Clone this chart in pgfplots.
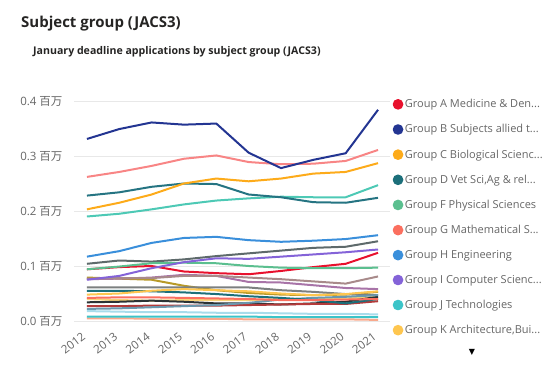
\documentclass[border=0pt]{standalone}
\usepackage{pgfplots}
\pgfplotsset{compat=1.18}
\usepackage{pgfplotstable}
\usepackage{fontspec}
\setmainfont{Open Sans}
\newfontfamily\cjk{Noto Sans CJK SC}
\newfontfamily\dejavu{DejaVu Sans}
\definecolor{tickgrey}{HTML}{666666}
\definecolor{titlecol}{HTML}{252423}
\definecolor{cA}{HTML}{E8112D}
\definecolor{cB}{HTML}{233592}
\definecolor{cC}{HTML}{FDAB1A}
\definecolor{cD}{HTML}{1C6F7A}
\definecolor{cF}{HTML}{5BBF8F}
\definecolor{cG}{HTML}{FB6F5F}
\definecolor{cH}{HTML}{3A8FDB}
\definecolor{cI}{HTML}{8463D8}
\definecolor{cJ}{HTML}{3CC4C8}
\definecolor{cK}{HTML}{FEC64F}
\definecolor{cL}{HTML}{F88585}
\definecolor{cM}{HTML}{4DC9B5}
\definecolor{cN}{HTML}{257482}
\definecolor{cP}{HTML}{5E6A6B}
\definecolor{cQ}{HTML}{B89A28}
\definecolor{cR}{HTML}{A874A8}
\definecolor{cT}{HTML}{A88A8A}
\definecolor{cV}{HTML}{7C8080}
\definecolor{cW}{HTML}{F8D37A}
\definecolor{cX}{HTML}{2B3335}
\definecolor{cY}{HTML}{B33A3A}
\definecolor{cZ}{HTML}{6A98AE}
\definecolor{cZa}{HTML}{A8DCEB}
\definecolor{cZb}{HTML}{F9A98C}

\pgfplotstableread{
year A B C D F G H I J K L M N P Q R T V W X Y Z Za Zb
2012 0.094 0.331 0.203 0.055 0.094 0.042 0.117 0.075 0.008 0.048 0.262 0.190 0.228 0.104 0.079 0.076 0.077 0.061 0.040 0.034 0.027 0.022 0.018 0.005
2013 0.098 0.349 0.215 0.055 0.099 0.043 0.127 0.082 0.008 0.050 0.271 0.195 0.234 0.110 0.077 0.077 0.078 0.061 0.038 0.035 0.027 0.023 0.017 0.005
2014 0.100 0.361 0.230 0.054 0.105 0.043 0.142 0.096 0.008 0.055 0.282 0.203 0.244 0.108 0.075 0.079 0.078 0.061 0.037 0.037 0.028 0.025 0.016 0.004
2015 0.090 0.357 0.250 0.052 0.106 0.042 0.151 0.107 0.008 0.058 0.295 0.212 0.250 0.112 0.064 0.084 0.082 0.061 0.038 0.035 0.028 0.027 0.016 0.004
2016 0.087 0.359 0.259 0.049 0.105 0.041 0.153 0.114 0.008 0.056 0.301 0.219 0.249 0.118 0.056 0.082 0.082 0.061 0.038 0.032 0.028 0.029 0.015 0.004
2017 0.085 0.306 0.254 0.045 0.100 0.040 0.147 0.113 0.008 0.054 0.289 0.223 0.230 0.123 0.051 0.071 0.079 0.061 0.038 0.032 0.029 0.033 0.015 0.003
2018 0.091 0.278 0.259 0.042 0.097 0.038 0.144 0.117 0.007 0.050 0.285 0.226 0.225 0.128 0.048 0.070 0.076 0.056 0.040 0.030 0.030 0.039 0.014 0.003
2019 0.098 0.293 0.268 0.038 0.096 0.038 0.146 0.121 0.007 0.047 0.286 0.225 0.216 0.133 0.047 0.065 0.072 0.053 0.040 0.032 0.031 0.042 0.013 0.003
2020 0.104 0.305 0.271 0.032 0.096 0.039 0.149 0.125 0.007 0.049 0.291 0.225 0.215 0.135 0.048 0.060 0.068 0.049 0.041 0.035 0.031 0.044 0.013 0.003
2021 0.124 0.384 0.287 0.040 0.097 0.040 0.156 0.130 0.007 0.054 0.311 0.247 0.224 0.145 0.053 0.058 0.081 0.047 0.044 0.044 0.036 0.047 0.012 0.002
}\datatable

\begin{document}
\begin{tikzpicture}[x=1pt,y=1pt]
\path (0,0) rectangle (551,364);
\node[anchor=base west, font=\fontsize{15}{18}\selectfont\bfseries, text=titlecol, inner sep=0pt] at (21,336) {Subject group (JACS3)};
\node[anchor=base west, font=\fontsize{10.6}{12}\selectfont\bfseries, text=titlecol, inner sep=0pt] at (33,309) {January deadline applications by subject group (JACS3)};
\node[font=\dejavu\fontsize{8}{9}\selectfont, inner sep=0pt] at (472,12) {▼};
\begin{axis}[
  at={(74pt,43pt)}, anchor=south west,
  scale only axis, width=316pt, height=220pt,
  xmin=2011.6, xmax=2021.37, ymin=0, ymax=0.4,
  axis line style={draw=none},
  major tick length=0pt,
  ymajorgrids, grid style={color=black!9, line width=0.9pt},
  xtick={2012,...,2021},
  xticklabels={2012,2013,2014,2015,2016,2017,2018,2019,2020,2021},
  ytick={0,0.1,0.2,0.3,0.4},
  yticklabels={0.0 {\cjk 百万},0.1 {\cjk 百万},0.2 {\cjk 百万},0.3 {\cjk 百万},0.4 {\cjk 百万}},
  ticklabel style={font=\fontsize{11.5}{13}\selectfont, text=tickgrey},
  yticklabel style={xshift=-8pt},
  xticklabel style={rotate=37, anchor=north east, yshift=-2pt, xshift=-8pt},
  every axis plot/.append style={line width=2pt, line join=round},
  legend cell align=left,
  legend style={draw=none, fill=none, at={(1.008,1.015)}, anchor=north west,
    font=\fontsize{11}{13}\selectfont, text=tickgrey, row sep=12.3pt, inner sep=0pt,
    nodes={inner sep=1.5pt}},
  legend image code/.code={\fill[#1] (4pt,0pt) circle (4.3pt);},
]
\addplot[cL, forget plot] table[x=year, y=L] {\datatable};
\addplot[cM, forget plot] table[x=year, y=M] {\datatable};
\addplot[cN, forget plot] table[x=year, y=N] {\datatable};
\addplot[cP, forget plot] table[x=year, y=P] {\datatable};
\addplot[cQ, forget plot] table[x=year, y=Q] {\datatable};
\addplot[cR, forget plot] table[x=year, y=R] {\datatable};
\addplot[cT, forget plot] table[x=year, y=T] {\datatable};
\addplot[cV, forget plot] table[x=year, y=V] {\datatable};
\addplot[cW, forget plot] table[x=year, y=W] {\datatable};
\addplot[cX, forget plot] table[x=year, y=X] {\datatable};
\addplot[cY, forget plot] table[x=year, y=Y] {\datatable};
\addplot[cZ, forget plot] table[x=year, y=Z] {\datatable};
\addplot[cZa, forget plot] table[x=year, y=Za] {\datatable};
\addplot[cZb, forget plot] table[x=year, y=Zb] {\datatable};
\addplot[cA] table[x=year, y=A] {\datatable};
\addlegendentry{Group A Medicine \& Den...}
\addplot[cB] table[x=year, y=B] {\datatable};
\addlegendentry{Group B Subjects allied t...}
\addplot[cC] table[x=year, y=C] {\datatable};
\addlegendentry{Group C Biological Scienc...}
\addplot[cD] table[x=year, y=D] {\datatable};
\addlegendentry{Group D Vet Sci,Ag \& rel...}
\addplot[cF] table[x=year, y=F] {\datatable};
\addlegendentry{Group F Physical Sciences}
\addplot[cG] table[x=year, y=G] {\datatable};
\addlegendentry{Group G Mathematical S...}
\addplot[cH] table[x=year, y=H] {\datatable};
\addlegendentry{Group H Engineering}
\addplot[cI] table[x=year, y=I] {\datatable};
\addlegendentry{Group I Computer Scienc...}
\addplot[cJ] table[x=year, y=J] {\datatable};
\addlegendentry{Group J Technologies}
\addplot[cK] table[x=year, y=K] {\datatable};
\addlegendentry{Group K Architecture,Bui...}
\end{axis}
\end{tikzpicture}
\end{document}
